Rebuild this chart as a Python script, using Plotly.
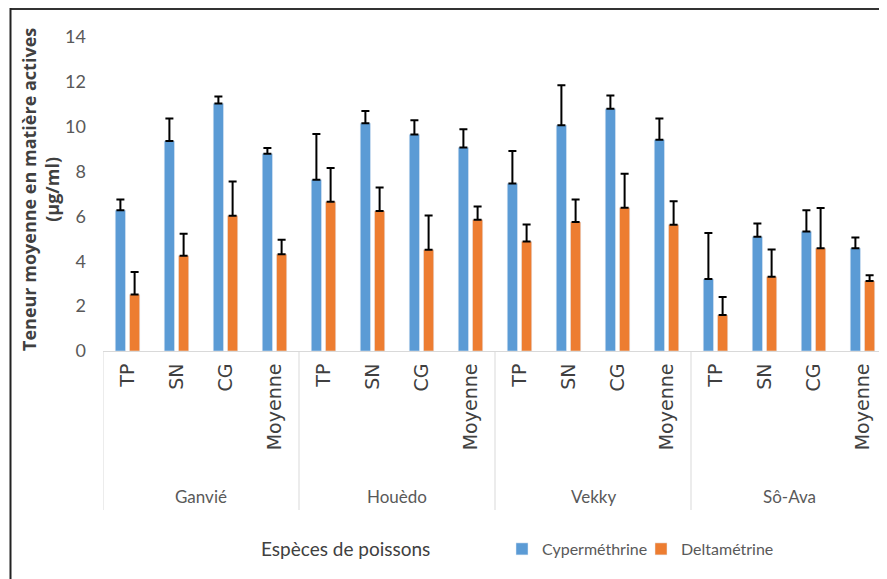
import plotly.graph_objects as go

# ---- data ----
groups = ["Ganvié", "Houèdo", "Vekky", "Sô-Ava"]
species = ["TP", "SN", "CG", "Moyenne"]

cyper_vals = [6.27, 9.36, 11.03, 8.79,
              7.64, 10.16, 9.65, 9.07,
              7.47, 10.06, 10.80, 9.42,
              3.21, 5.09, 5.33, 4.58]
cyper_err = [0.49, 1.01, 0.32, 0.26,
             2.03, 0.54, 0.64, 0.82,
             1.45, 1.79, 0.59, 0.95,
             2.05, 0.59, 0.94, 0.48]

delta_vals = [2.52, 4.25, 6.03, 4.31,
              6.65, 6.24, 4.51, 5.85,
              4.88, 5.75, 6.39, 5.63,
              1.60, 3.31, 4.58, 3.12]
delta_err = [1.00, 0.98, 1.53, 0.65,
             1.51, 1.05, 1.53, 0.59,
             0.76, 1.01, 1.51, 1.05,
             0.81, 1.21, 1.80, 0.26]

y_ticks = [0, 2, 4, 6, 8, 10, 12, 14]

# ---- layout helpers ----
OFF = 8  # page body margin of the browser
W, H = 879, 571
L, R, T, B = 95, 0, 29, 228
PW, PH = W - L - R, H - T - B


def px_x(px):
    """reference-image pixel x -> paper x"""
    return (px - OFF - L) / PW


def px_y(py):
    """reference-image pixel y -> paper y"""
    return (H - B - (py - OFF)) / PH


tick_text = [s for g in groups for s in species]
x_pos = list(range(len(tick_text)))

BLUE = "#5B9BD5"
ORANGE = "#ED7D31"
GRAY = "#595959"

fig = go.Figure()
fig.add_trace(go.Bar(
    x=x_pos, y=cyper_vals, name="Cyperméthrine", marker_color=BLUE,
    legend="legend",
    error_y=dict(type="data", symmetric=False, array=cyper_err,
                 arrayminus=[0] * len(cyper_err), color="black",
                 thickness=2, width=4),
))
fig.add_trace(go.Bar(
    x=x_pos, y=delta_vals, name="Deltamétrine", marker_color=ORANGE,
    legend="legend2",
    error_y=dict(type="data", symmetric=False, array=delta_err,
                 arrayminus=[0] * len(delta_err), color="black",
                 thickness=2, width=4),
))

leg_common = dict(orientation="h", xanchor="left", yanchor="middle",
                  font=dict(family="Lato", size=16, color=GRAY),
                  itemwidth=30, bgcolor="rgba(0,0,0,0)")

fig.update_layout(
    width=W, height=H,
    margin=dict(l=L, r=R, t=T, b=B, autoexpand=False),
    plot_bgcolor="white", paper_bgcolor="white",
    barmode="group", bargap=0.42, bargroupgap=0.28,
    showlegend=True,
    legend=dict(x=px_x(502), y=px_y(549), **leg_common),
    legend2=dict(x=px_x(641), y=px_y(549), **leg_common),
    font=dict(family="Lato", color=GRAY),
)

fig.update_xaxes(
    range=[-0.5, len(tick_text) - 0.5],
    tickmode="array", tickvals=x_pos, ticktext=tick_text,
    tickangle=-90, ticks="", ticklabelstandoff=4,
    tickfont=dict(family="DejaVu Sans", size=19, color="#404040"),
    showline=True, linecolor="#D9D9D9", linewidth=1,
    showgrid=False, zeroline=False,
)
fig.update_yaxes(
    range=[0, 14], tickmode="array", tickvals=y_ticks,
    ticks="", ticklabelstandoff=16,
    tickfont=dict(family="Lato", size=18, color=GRAY),
    showline=False, showgrid=False, zeroline=False,
)

# group separators
for k in range(len(groups) + 1):
    xv = k * len(species) - 0.5
    fig.add_shape(type="line", xref="x", yref="paper",
                  x0=xv, x1=xv, y0=0, y1=px_y(510),
                  line=dict(color="#D9D9D9", width=1))

# group labels
for k, g in enumerate(groups):
    fig.add_annotation(x=k * len(species) + (len(species) - 1) / 2,
                       y=px_y(496), xref="x", yref="paper",
                       text=g, showarrow=False,
                       font=dict(family="Lato", size=17, color=GRAY),
                       xanchor="center", yanchor="middle")

# axis titles
fig.add_annotation(x=px_x(345), y=px_y(548), xref="paper", yref="paper",
                   text="Espèces de poissons", showarrow=False,
                   font=dict(family="Lato", size=19, color="#404040"),
                   xanchor="center", yanchor="middle")
fig.add_annotation(x=px_x(40), y=px_y(190), xref="paper", yref="paper",
                   text="<b>Teneur moyenne en matière actives<br>(µg/ml)</b>",
                   showarrow=False, textangle=-90,
                   font=dict(family="Open Sans", size=18, color="#404040"),
                   xanchor="center", yanchor="middle")

# outer frame (top and left edges)
fig.add_shape(type="line", xref="paper", yref="paper",
              x0=px_x(10), x1=px_x(890), y0=px_y(9), y1=px_y(9),
              line=dict(color="#333333", width=2))
fig.add_shape(type="line", xref="paper", yref="paper",
              x0=px_x(10.5), x1=px_x(10.5), y0=px_y(8), y1=px_y(579),
              line=dict(color="#222222", width=2))

fig.write_html("out.html")
